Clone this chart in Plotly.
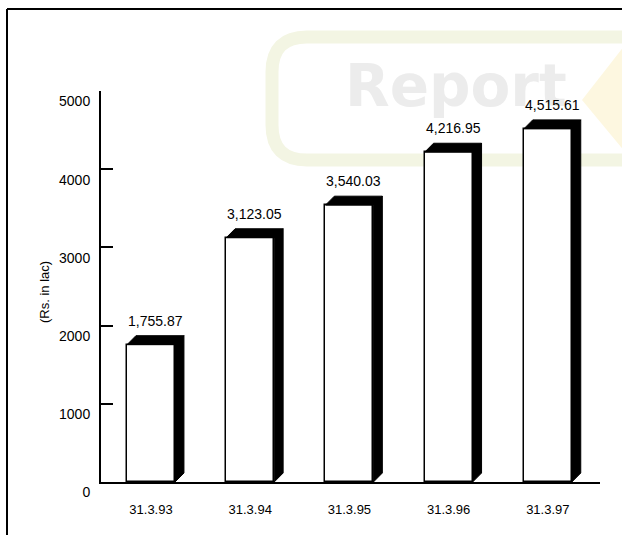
import plotly.graph_objects as go

# Reserves at the close of each financial year (Rs. in lac)
dates = ["31.3.93", "31.3.94", "31.3.95", "31.3.96", "31.3.97"]
amounts = [1755.87, 3123.05, 3540.03, 4216.95, 4515.61]
y_ticks = [0, 1000, 2000, 3000, 4000, 5000]

# Canvas and plot-area geometry (pixels)
W, H = 622, 535
ML, MR, MT, MB = 101, 22, 91, 53
PW, PH = W - ML - MR, H - MT - MB

X_RANGE = [-0.504, 4.526]
Y_RANGE = [0, 5000]

BAR_W = 0.484      # front face width, in slot units
DEPTH_X = 0.09     # oblique depth of the 3-D box, x units
DEPTH_Y = 115      # oblique depth of the 3-D box, y units

FONT = "Liberation Sans, Arial, Helvetica, sans-serif"


def px_x(p):
    return (p - ML) / PW


def px_y(p):
    return (H - MB - p) / PH


slots = list(range(len(dates)))

fig = go.Figure()

# Front faces of the boxes
fig.add_trace(go.Bar(
    x=slots, y=amounts, width=BAR_W,
    marker=dict(color="white", line=dict(color="black", width=1.5)),
    hoverinfo="skip", showlegend=False,
))

# Dark side and top faces, built from the same values
px_list, py_list = [], []
for s, v in zip(slots, amounts):
    x0, x1 = s - BAR_W / 2, s + BAR_W / 2
    # side
    px_list += [x1, x1 + DEPTH_X, x1 + DEPTH_X, x1, x1, None]
    py_list += [0, DEPTH_Y, v + DEPTH_Y, v, 0, None]
    # top
    px_list += [x0, x0 + DEPTH_X, x1 + DEPTH_X, x1, x0, None]
    py_list += [v, v + DEPTH_Y, v + DEPTH_Y, v, v, None]

fig.add_trace(go.Scatter(
    x=px_list, y=py_list, mode="lines", fill="toself",
    fillcolor="black", line=dict(color="black", width=1),
    hoverinfo="skip", showlegend=False,
))

# Faint background emblem (drawn first so everything else sits on top)
fig.add_shape(
    type="path", xref="paper", yref="paper", layer="below",
    path=(f"M {px_x(660)},{px_y(37)} L {px_x(307)},{px_y(37)} "
          f"Q {px_x(272)},{px_y(37)} {px_x(272)},{px_y(72)} "
          f"L {px_x(272)},{px_y(125)} "
          f"Q {px_x(272)},{px_y(160)} {px_x(307)},{px_y(160)} "
          f"L {px_x(660)},{px_y(160)}"),
    line=dict(color="#f3f5e3", width=13),
)
fig.add_shape(
    type="path", xref="paper", yref="paper", layer="below",
    path=(f"M {px_x(625)},{px_y(45)} L {px_x(582)},{px_y(100)} "
          f"L {px_x(625)},{px_y(152)} Z"),
    fillcolor="#fdf7e0", line=dict(width=0),
)
fig.add_annotation(
    xref="paper", yref="paper", x=px_x(456), y=px_y(86),
    xanchor="center", yanchor="middle",
    text="<b>Report</b>", showarrow=False,
    font=dict(family="DejaVu Sans", size=58, color="#ececec"),
)

# Value labels above each box
for s, v in zip(slots, amounts):
    fig.add_annotation(
        x=s + DEPTH_X / 2, y=v + DEPTH_Y, text=f"{v:,.2f}",
        showarrow=False, yanchor="bottom", yshift=5,
        font=dict(family=FONT, size=14, color="black"),
    )

# Axis title
fig.add_annotation(
    xref="paper", yref="paper", x=px_x(44), y=px_y(292),
    xanchor="center", yanchor="middle",
    text="(Rs. in lac)", textangle=-90, showarrow=False,
    font=dict(family=FONT, size=13, color="black"),
)

# Page frame (top and left rules)
fig.add_shape(type="line", xref="paper", yref="paper",
              x0=px_x(7), y0=px_y(9), x1=px_x(625), y1=px_y(9),
              line=dict(color="black", width=2))
fig.add_shape(type="line", xref="paper", yref="paper",
              x0=px_x(7), y0=px_y(9), x1=px_x(7), y1=px_y(540),
              line=dict(color="black", width=2))

fig.update_layout(
    width=W, height=H,
    margin=dict(l=ML, r=MR, t=MT, b=MB, pad=0),
    paper_bgcolor="white", plot_bgcolor="white",
    showlegend=False,
    bargap=0,
    xaxis=dict(
        range=X_RANGE, showgrid=False, zeroline=False,
        showline=True, linecolor="black", linewidth=2,
        tickmode="array", tickvals=slots,
        ticktext=dates, ticks="", ticklabelstandoff=14,
        tickfont=dict(family=FONT, size=13, color="black"),
        fixedrange=True,
    ),
    yaxis=dict(
        range=Y_RANGE, showgrid=False, zeroline=False,
        showline=True, linecolor="black", linewidth=2,
        tickmode="array", tickvals=y_ticks,
        ticktext=[str(t) for t in y_ticks],
        ticks="inside", ticklen=12, tickwidth=1.5, tickcolor="black",
        ticklabelposition="outside bottom", ticklabelstandoff=6,
        tickfont=dict(family=FONT, size=14, color="black"),
        fixedrange=True,
    ),
)

fig.write_html("out.html")
